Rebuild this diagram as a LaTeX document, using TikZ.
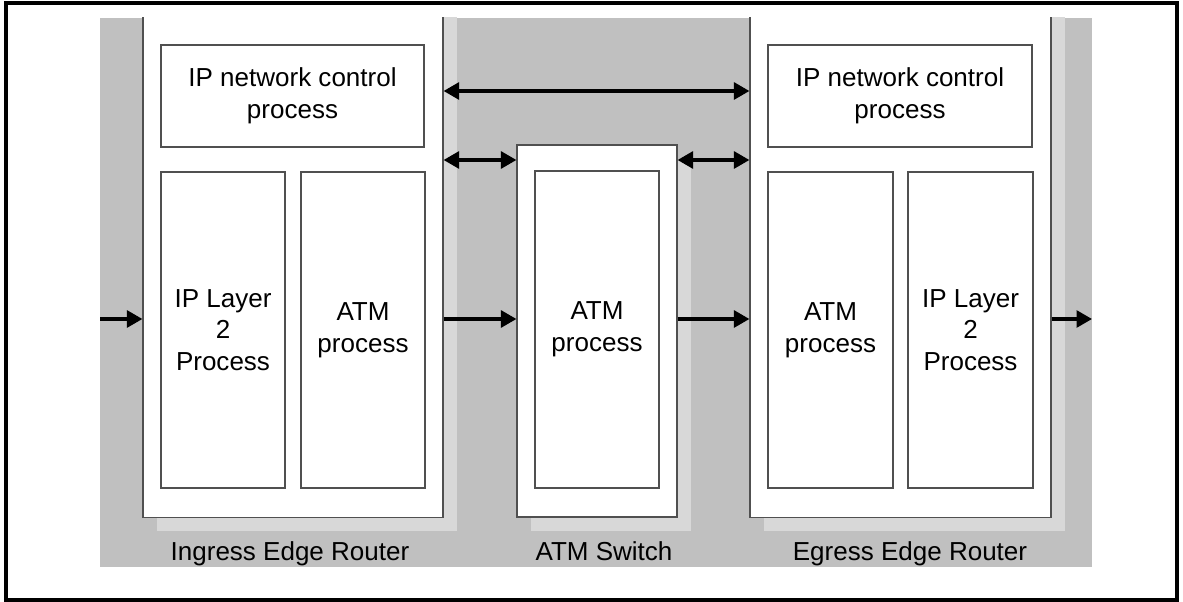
\documentclass[tikz,border=0pt]{standalone}
\usepackage{fontspec}
\setmainfont{Liberation Sans}
\usetikzlibrary{arrows.meta,shadows}
\definecolor{bggray}{RGB}{192,192,192}
\definecolor{shdgray}{RGB}{216,216,216}
\definecolor{linegray}{RGB}{80,80,80}
\begin{document}
\begin{tikzpicture}[x=0.025cm, y=-0.025cm,
    >={Triangle[length=11pt,width=12pt]},
    box/.style={draw=linegray, line width=0.8pt, fill=white, align=center,
        inner sep=0pt, font=\fontsize{18.5}{22.5}\selectfont},
    unit/.style={box, drop shadow={shadow xshift=0.35cm, shadow yshift=-0.35cm,
        fill=shdgray, opacity=1}},
    flow/.style={->, line width=2.3pt},
    both/.style={<->, line width=2.3pt},
    lbl/.style={anchor=base, font=\fontsize{18.5}{22.5}\selectfont}]

    \useasboundingbox (0,0) rectangle (1183,602);
    \draw[line width=2.2pt] (6,3) rectangle (1177,600);

    % 1. Gray background
    \fill[bggray] (100,18) rectangle (1092,567);

    % 2. Routers and switch (tops cut off by the background)
    \begin{scope}
        \clip (100,18) rectangle (1092,567);
        \node[unit, minimum width=7.5cm, minimum height=12.925cm] (ingress) at (293,258.5) {};
        \node[unit, minimum width=4cm, minimum height=9.3cm] (atmsw) at (597,331) {};
        \node[unit, minimum width=7.525cm, minimum height=12.925cm] (egress) at (900.5,258.5) {};
    \end{scope}

    % 3. Processes
    \node[box, minimum width=6.575cm, minimum height=2.55cm] (ctlin) at (292.5,96) {IP network control\\process};
    \node[box, minimum width=3.1cm, minimum height=7.9cm] (l2in) at (223,330) {IP Layer\\2\\Process};
    \node[box, minimum width=3.1cm, minimum height=7.9cm] (atmin) at (363,330) {ATM\\process};

    \node[box, minimum width=3.1cm, minimum height=7.925cm] (atmmid) at (597,329.5) {ATM\\process};

    \node[box, minimum width=6.6cm, minimum height=2.55cm] (ctleg) at (900,96) {IP network control\\process};
    \node[box, minimum width=3.125cm, minimum height=7.9cm] (atmeg) at (830.5,330) {ATM\\process};
    \node[box, minimum width=3.125cm, minimum height=7.9cm] (l2eg) at (970.5,330) {IP Layer\\2\\Process};

    % 4. Connectors
    \coordinate (toprow) at (0,91);
    \coordinate (sigrow) at (0,160);
    \coordinate (inlet) at (100,319);
    \coordinate (outlet) at (1092,319);

    \draw[both] (ingress.east |- toprow) -- (egress.west |- toprow);
    \draw[both] (ingress.east |- sigrow) -- (atmsw.west |- sigrow);
    \draw[both] (atmsw.east |- sigrow) -- (egress.west |- sigrow);

    \draw[flow] (inlet) -- (ingress.west |- inlet);
    \draw[flow] (ingress.east |- inlet) -- (atmsw.west |- inlet);
    \draw[flow] (atmsw.east |- inlet) -- (egress.west |- inlet);
    \draw[flow] (egress.east |- outlet) -- (outlet);

    % 5. Names
    \node[lbl] (lblin) at (290,560) {Ingress Edge Router};
    \node[lbl] (lblsw) at (604,560) {ATM Switch};
    \node[lbl] (lbleg) at (910,560) {Egress Edge Router};

\end{tikzpicture}
\end{document}
